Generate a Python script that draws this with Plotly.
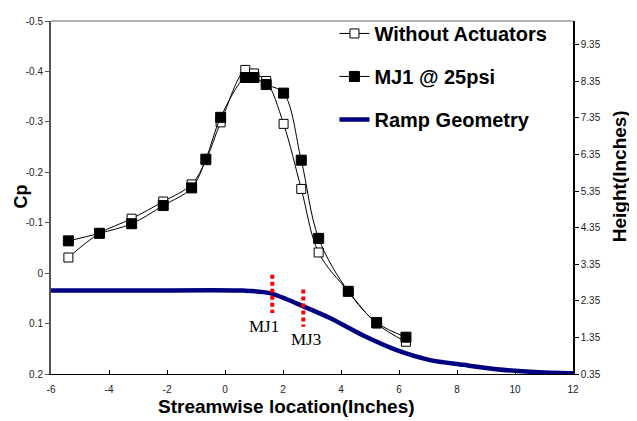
import plotly.graph_objects as go

# streamwise stations (inches) and pressure coefficient
x_loc = [-5.40, -4.33, -3.22, -2.13, -1.15, -0.66, -0.15, 0.70, 1.00, 1.42, 2.02, 2.63, 3.23, 4.25, 5.23, 6.24]
cp_without = [-0.031, -0.079, -0.108, -0.142, -0.176, -0.224, -0.299, -0.403, -0.396, -0.381, -0.296, -0.167, -0.041, 0.036, 0.100, 0.136]
cp_mj1 = [-0.064, -0.079, -0.098, -0.134, -0.169, -0.226, -0.309, -0.388, -0.388, -0.374, -0.357, -0.224, -0.069, 0.036, 0.098, 0.127]

# ramp geometry (height in inches)
ramp_x = [-6, -3, 0.62, 1.55, 2.70, 3.62, 4.77, 5.92, 7.07, 8.22, 9.37, 10.52, 11.9, 12]
ramp_h = [2.63, 2.63, 2.63, 2.56, 2.20, 1.88, 1.40, 1.00, 0.73, 0.60, 0.48, 0.41, 0.37, 0.37]

# actuator locations
mj_names = ["MJ1", "MJ3"]
mj_x = [1.63, 2.70]
mj_top = [3.06, 2.66]
mj_bottom = [2.02, 1.64]
mj_label_x = [1.36, 2.79]
mj_label_y = [1.64, 1.29]

cp_ticks = [-0.5, -0.4, -0.3, -0.2, -0.1, 0, 0.1, 0.2]
cp_ticktext = ["-0.5", "-0.4", "-0.3", "-0.2", "-0.1", "0", "0.1", "0.2"]
x_ticks = [-6, -4, -2, 0, 2, 4, 6, 8, 10, 12]
x_ticktext = ["-6", "-4", "-2", "0", "2", "4", "6", "8", "10", "12"]

font = "Arial, Liberation Sans, sans-serif"

fig = go.Figure()

fig.add_trace(go.Scatter(x=ramp_x, y=ramp_h, mode="lines", name="<b>Ramp Geometry</b>",
                         line=dict(color="#000080", width=4.5, shape="spline", smoothing=0.8),
                         yaxis="y", legendrank=3, legendgroup="c"))
for i in range(len(mj_x)):
    fig.add_trace(go.Scatter(x=[mj_x[i], mj_x[i]], y=[mj_top[i], mj_bottom[i]], mode="lines",
                             line=dict(color="#ff0000", width=4, dash="4px,3px"),
                             showlegend=False, yaxis="y"))
    fig.add_annotation(x=mj_label_x[i], y=mj_label_y[i], xref="x", yref="y", text=mj_names[i],
                       showarrow=False, xanchor="center", yanchor="middle",
                       font=dict(family="Times New Roman, Liberation Serif, serif", size=17, color="black"))

fig.add_trace(go.Scatter(x=x_loc, y=cp_without, mode="lines+markers", name="<b>Without Actuators</b>",
                         line=dict(color="black", width=1, shape="spline"),
                         marker=dict(symbol="square", size=9, color="white", line=dict(color="black", width=1)),
                         yaxis="y2", legendrank=1, legendgroup="a"))
fig.add_trace(go.Scatter(x=x_loc, y=cp_mj1, mode="lines+markers", name="<b>MJ1 @ 25psi</b>",
                         line=dict(color="black", width=1, shape="spline"),
                         marker=dict(symbol="square", size=10, color="black", line=dict(color="black", width=1)),
                         yaxis="y2", legendrank=2, legendgroup="b"))

# axis titles placed by hand
fig.add_annotation(x=-0.0575, y=0.503, xref="paper", yref="paper", text="<b>Cp</b>", showarrow=False,
                   xanchor="center", yanchor="middle", textangle=-90,
                   font=dict(family=font, size=18, color="black"))
fig.add_annotation(x=0.452, y=-0.093, xref="paper", yref="paper", text="<b>Streamwise location(Inches)</b>",
                   showarrow=False, xanchor="center", yanchor="middle",
                   font=dict(family=font, size=19, color="black"))
fig.add_annotation(x=1.088, y=0.56, xref="paper", yref="paper", text="<b>Height(Inches)</b>",
                   showarrow=False, xanchor="center", yanchor="middle", textangle=-90,
                   font=dict(family=font, size=19, color="black"))

# page body adds 8px, so figure is drawn 8px smaller
fig.update_layout(
    width=629, height=413,
    margin=dict(l=43, r=64, t=6, b=47),
    paper_bgcolor="white", plot_bgcolor="white",
    font=dict(family=font, size=10, color="#222"),
    showlegend=True,
    legend=dict(x=0.543, y=1.02, xanchor="left", yanchor="top", bgcolor="rgba(0,0,0,0)",
                font=dict(family=font, size=20, color="black"), tracegroupgap=14,
                traceorder="grouped"),
    xaxis=dict(range=[-6, 12], tickvals=x_ticks, ticktext=x_ticktext, ticks="inside", ticklen=4,
               tickcolor="black", showline=True, linecolor="black", linewidth=1, showgrid=False,
               zeroline=False, tickfont=dict(size=10, color="#222"), ticklabelstandoff=6),
    yaxis=dict(side="right", range=[0.35, 10.0], tick0=0.35, dtick=1, tickformat=".2f",
               ticks="outside", ticklen=4, tickcolor="black", showline=True, linecolor="black",
               linewidth=1.5, showgrid=False, zeroline=False, tickfont=dict(size=10, color="#222")),
    yaxis2=dict(overlaying="y", side="left", range=[0.2, -0.5], tickvals=cp_ticks, ticktext=cp_ticktext,
                ticks="outside", ticklen=4, tickcolor="#555", showline=True, linecolor="#555",
                linewidth=2, showgrid=False, zeroline=False, tickfont=dict(size=10, color="#222")),
)

# top border of plot area
fig.add_shape(type="line", xref="paper", yref="paper", x0=0, x1=1, y0=1, y1=1,
              line=dict(color="#999", width=1.5))

fig.write_html("out.html")
